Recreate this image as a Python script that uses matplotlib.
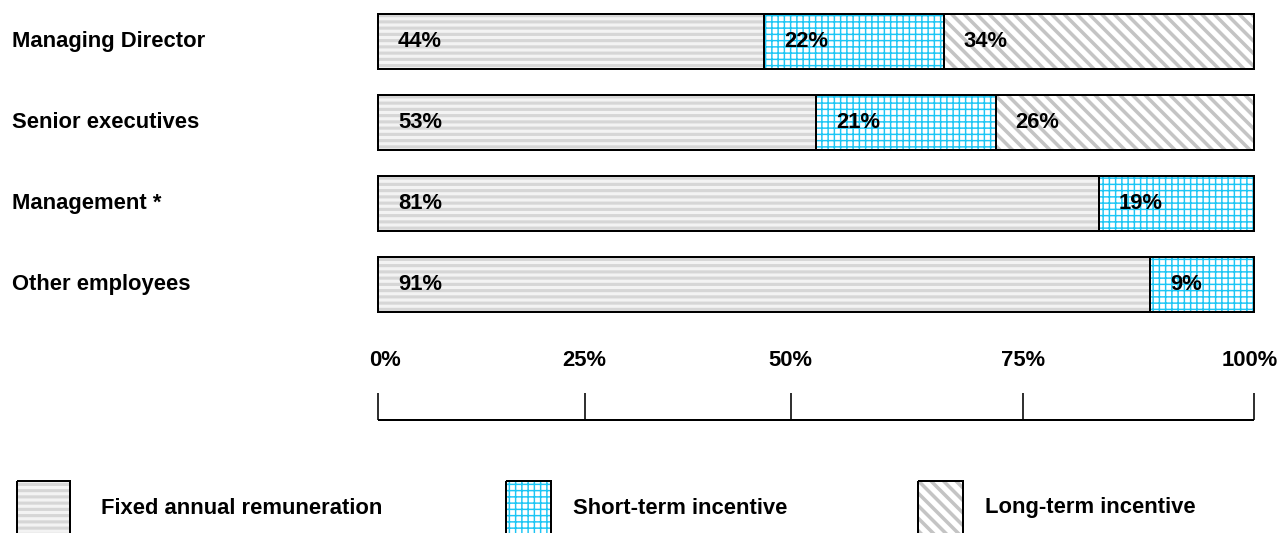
import matplotlib
matplotlib.use('Agg')
import matplotlib.pyplot as plt
from matplotlib.patches import Rectangle
from matplotlib.transforms import blended_transform_factory, ScaledTranslation

# data (segment widths as drawn, labels as printed)
groups = ['Managing Director', 'Senior executives', 'Management *', 'Other employees']
fixed = [44.1, 50.0, 82.3, 88.1]
short_term = [20.5, 20.5, 17.7, 11.9]
long_term = [35.4, 29.5, 0, 0]
fixed_lbl = ['44%', '53%', '81%', '91%']
short_lbl = ['22%', '21%', '19%', '9%']
long_lbl = ['34%', '26%', '', '']
scale_pos = [0, 23.6, 47.1, 73.6, 100]
scale_lbl = ['0%', '25%', '50%', '75%', '100%']
legend_names = ['Fixed annual remuneration', 'Short-term incentive', 'Long-term incentive']

DPI = 75
W, H = 1278, 533
def pt(px):
    return px * 72.0 / DPI

plt.rcParams['font.family'] = ['Liberation Sans', 'DejaVu Sans']
plt.rcParams['font.weight'] = 'bold'
plt.rcParams['hatch.linewidth'] = 2.2
FS = pt(22)

# fill styles: (face, hatch colour, hatch, hatch width)
styles = [('#f3f3f3', '#d6d6d6', '--', 3.0),
          ('white', '#1cc6f5', '++', 1.4),
          ('white', '#c4c4c4', '\\\\', 3.4)]

def hatched(patch, st):
    patch.set_facecolor(st[0])
    patch.set_edgecolor(st[1])
    patch.set_hatch(st[2])
    patch.set_linewidth(0)
    if hasattr(patch, 'set_hatch_linewidth'):
        patch.set_hatch_linewidth(st[3])

fig = plt.figure(figsize=(W / DPI, H / DPI), dpi=DPI)

ax = fig.add_axes([378 / W, 1 - 312 / H, 876 / W, 298 / H])
bh = 0.676
ax.set_xlim(0, 100)
ax.set_ylim(3 + bh / 2, -bh / 2)
ax.axis('off')

y = list(range(len(groups)))
lefts = [0] * len(groups)
for vals, labels, st in [(fixed, fixed_lbl, styles[0]),
                         (short_term, short_lbl, styles[1]),
                         (long_term, long_lbl, styles[2])]:
    with plt.rc_context({'hatch.linewidth': st[3]}):
        bars = ax.barh(y, vals, left=lefts, height=bh)
        for b in bars:
            hatched(b, st)
    ax.barh(y, vals, left=lefts, height=bh, fill=False, edgecolor='black',
            linewidth=pt(2), clip_on=False)
    for yi, l, v, t in zip(y, lefts, vals, labels):
        if v > 0:
            ax.annotate(t, xy=(l, yi), xytext=(pt(20), 0), textcoords='offset points',
                        ha='left', va='center', fontsize=FS)
    lefts = [a + b for a, b in zip(lefts, vals)]

trans = blended_transform_factory(fig.transFigure, ax.transData)
for yi, g in zip(y, groups):
    ax.text(12 / W, yi, g, transform=trans, ha='left', va='center', fontsize=FS)

# scale below the bars
ax2 = fig.add_axes([378 / W, 1 - 420 / H, 876 / W, 27 / H])
ax2.set_xlim(0, 100)
ax2.set_ylim(0, 1)
for s in ['top', 'left', 'right']:
    ax2.spines[s].set_visible(False)
ax2.spines['bottom'].set_linewidth(pt(2))
ax2.spines['bottom'].set_capstyle('butt')
ax2.set_yticks([])
ax2.set_xticks(scale_pos)
ax2.set_xticklabels(scale_lbl)
ax2.tick_params(axis='x', which='both', direction='in', length=pt(27), width=pt(1.6),
                bottom=True, top=False, labelbottom=False, labeltop=True,
                pad=pt(22), labelsize=FS)
tl = ax2.xaxis.get_majorticklabels()
tl[0].set_transform(tl[0].get_transform() + ScaledTranslation(7 / DPI, 0, fig.dpi_scale_trans))
tl[-1].set_transform(tl[-1].get_transform() + ScaledTranslation(-4 / DPI, 0, fig.dpi_scale_trans))

# legend drawn by hand in pixel space
lax = fig.add_axes([0, 0, 1, 1])
lax.set_xlim(0, W)
lax.set_ylim(H, 0)
lax.axis('off')
box_x = [17, 506, 918]
box_w = [53, 45, 45]
text_x = [101, 573, 985]
for bx, bw, tx, name, st in zip(box_x, box_w, text_x, legend_names, styles):
    with plt.rc_context({'hatch.linewidth': st[3]}):
        r = Rectangle((bx, 481), bw, 60)
        hatched(r, st)
        lax.add_patch(r)
    lax.add_patch(Rectangle((bx, 481), bw, 60, fill=False, edgecolor='black',
                            linewidth=pt(2)))
    lax.text(tx, 508, name, ha='left', va='center', fontsize=FS)

fig.savefig('out.png', dpi=DPI)
